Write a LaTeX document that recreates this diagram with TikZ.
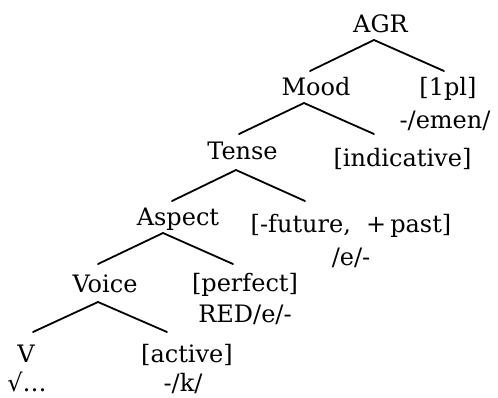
\documentclass[tikz,border=0pt]{standalone}
\usepackage{fontspec}
\setmainfont{DejaVu Serif}
\begin{document}
\begin{tikzpicture}[x=1pt,y=-1pt,
  lbl/.style={anchor=base,inner sep=0pt,outer sep=0pt,font=\fontsize{24}{30}\selectfont},
  branch/.style={line width=1.8pt,line cap=round}]
\useasboundingbox (0,0) rectangle (498,397);

% category labels and feature bundles
\node[lbl] (agr)    at (380.5,32) {AGR};
\node[lbl] (mood)   at (316,95)   {Mood};
\node[lbl] (pl)     at (448,95)   {[1pl]};
\node[lbl] (plexp)  at (445,128)  {-/emen/};
\node[lbl] (tense)  at (242.5,159){Tense};
\node[lbl] (ind)    at (402.5,166){[indicative]};
\node[lbl] (asp)    at (178,225)  {Aspect};
\node[lbl] (past)   at (351,232)  {[-future,\ \ +\,past]};
\node[lbl] (pastexp)at (351,265)  {/e/-};
\node[lbl] (voice)  at (105,292)  {Voice};
\node[lbl] (perf)   at (245,291)  {[perfect]};
\node[lbl] (perfexp)at (245,322)  {RED/e/-};
\node[lbl] (v)      at (26,362)   {V};
\node[lbl] (root)   at (27,391)   {√…};
\node[lbl] (act)    at (187,362)  {[active]};
\node[lbl] (actexp) at (183,391)  {-/k/};

% branch points
\coordinate (agrTop)   at (374,40);
\coordinate (moodUp)   at (310,71);
\coordinate (plUp)     at (444,71);
\coordinate (moodTop)  at (304,103);
\coordinate (tenseUp)  at (239,134);
\coordinate (indUp)    at (374,134);
\coordinate (tenseTop) at (236,170);
\coordinate (aspUp)    at (172,201);
\coordinate (pastUp)   at (305,201);
\coordinate (aspTop)   at (163,233);
\coordinate (voiceUp)  at (98,264);
\coordinate (perfUp)   at (233,264);
\coordinate (voiceTop) at (98,302);
\coordinate (vUp)      at (33,332);
\coordinate (actUp)    at (167,332);

% branches
\draw[branch] (moodUp)  -- (agrTop)   -- (plUp);
\draw[branch] (tenseUp) -- (moodTop)  -- (indUp);
\draw[branch] (aspUp)   -- (tenseTop) -- (pastUp);
\draw[branch] (voiceUp) -- (aspTop)   -- (perfUp);
\draw[branch] (vUp)     -- (voiceTop) -- (actUp);
\end{tikzpicture}
\end{document}
